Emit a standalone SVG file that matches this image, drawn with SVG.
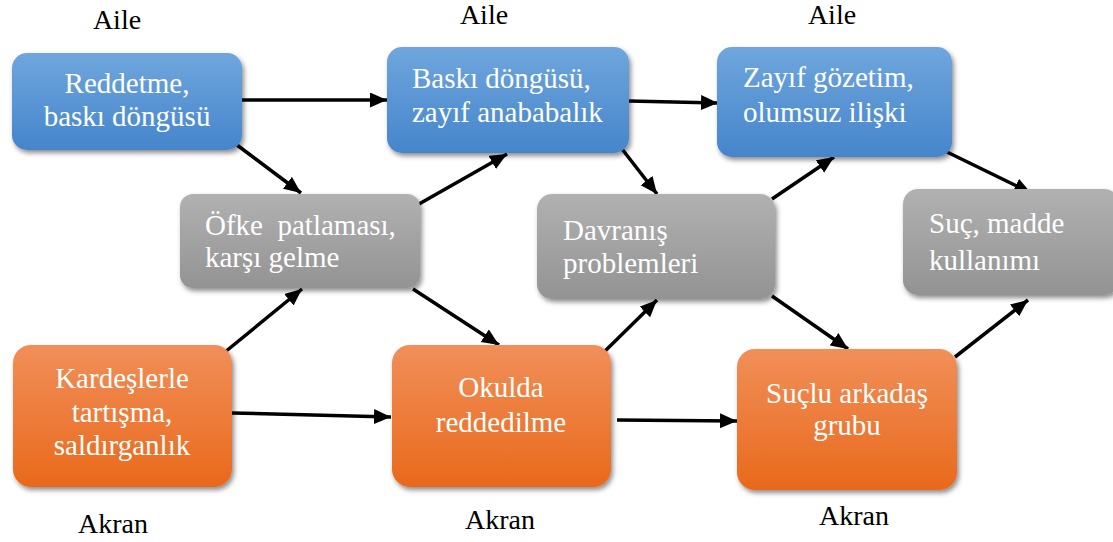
<svg xmlns="http://www.w3.org/2000/svg" width="1113" height="542" viewBox="0 0 1113 542">
  <defs>
    <linearGradient id="gBlue" x1="0" y1="0" x2="0" y2="1">
      <stop offset="0" stop-color="#6fa6dd"/>
      <stop offset="1" stop-color="#4585cb"/>
    </linearGradient>
    <linearGradient id="gGray" x1="0" y1="0" x2="0" y2="1">
      <stop offset="0" stop-color="#b1b1b1"/>
      <stop offset="1" stop-color="#939393"/>
    </linearGradient>
    <linearGradient id="gOrange" x1="0" y1="0" x2="0" y2="1">
      <stop offset="0" stop-color="#f18f59"/>
      <stop offset="1" stop-color="#e9691b"/>
    </linearGradient>
    <filter id="shadow" x="-10%" y="-10%" width="125%" height="130%">
      <feDropShadow dx="2" dy="3" stdDeviation="2.5" flood-color="#000" flood-opacity="0.45"/>
    </filter>
    <marker id="arrow" markerUnits="userSpaceOnUse" markerWidth="19" markerHeight="16" refX="17" refY="7.5" orient="auto">
      <path d="M0,0 L17,7.5 L0,15 Z" fill="#000"/>
    </marker>
  </defs>
  <style>
    .box { filter: url(#shadow); }
    .blue { fill: url(#gBlue); }
    .gray { fill: url(#gGray); }
    .orange { fill: url(#gOrange); }
    text { font-family: 'Liberation Serif', 'DejaVu Serif', serif; }
    .t { font-size: 29px; fill: #fff; }
    .c { text-anchor: middle; }
    .lbl { font-size: 28px; fill: #000; text-anchor: middle; }
    .conn line { stroke: #000; stroke-width: 3.5; marker-end: url(#arrow); }
  </style>

  <rect width="1113" height="542" fill="#fff"/>

  <!-- group labels -->
  <g id="labels">
    <text class="lbl" x="117" y="29">Aile</text>
    <text class="lbl" x="484" y="24">Aile</text>
    <text class="lbl" x="832" y="24">Aile</text>
    <text class="lbl" x="113" y="533">Akran</text>
    <text class="lbl" x="500" y="529">Akran</text>
    <text class="lbl" x="854" y="525">Akran</text>
  </g>

  <!-- connectors -->
  <g id="connectors" class="conn">
    <line x1="241" y1="100" x2="387" y2="100"/>
    <line x1="237" y1="145" x2="301" y2="193"/>
    <line x1="419" y1="204" x2="507" y2="154"/>
    <line x1="225" y1="352" x2="302" y2="289"/>
    <line x1="232" y1="413" x2="391" y2="417"/>
    <line x1="413" y1="289" x2="499" y2="345"/>
    <line x1="622" y1="149" x2="657" y2="194"/>
    <line x1="629" y1="101" x2="718" y2="103"/>
    <line x1="603" y1="353" x2="657" y2="300"/>
    <line x1="617" y1="420" x2="737" y2="421"/>
    <line x1="772" y1="199" x2="834" y2="157"/>
    <line x1="772" y1="296" x2="848" y2="349"/>
    <line x1="947" y1="152" x2="1031" y2="193"/>
    <line x1="955" y1="357" x2="1028" y2="300"/>
  </g>

  <!-- family row -->
  <g id="reddetme">
    <rect class="box blue" x="12" y="53" width="230" height="97" rx="15"/>
    <text class="t c" x="127" y="93">Reddetme,</text>
    <text class="t c" x="127" y="126">baskı döngüsü</text>
  </g>
  <g id="baski">
    <rect class="box blue" x="387" y="47" width="242" height="106" rx="15"/>
    <text class="t" x="412" y="88">Baskı döngüsü,</text>
    <text class="t" x="412" y="122">zayıf anababalık</text>
  </g>
  <g id="zayif">
    <rect class="box blue" x="717" y="47" width="235" height="110" rx="15"/>
    <text class="t" x="743" y="87">Zayıf gözetim,</text>
    <text class="t" x="743" y="122">olumsuz ilişki</text>
  </g>

  <!-- outcome row -->
  <g id="ofke">
    <rect class="box gray" x="180" y="194" width="240" height="94" rx="13"/>
    <text class="t" x="205" y="235" xml:space="preserve">Öfke  patlaması,</text>
    <text class="t" x="205" y="267">karşı gelme</text>
  </g>
  <g id="davranis">
    <rect class="box gray" x="537" y="194" width="238" height="105" rx="15"/>
    <text class="t" x="563" y="240">Davranış</text>
    <text class="t" x="563" y="273">problemleri</text>
  </g>
  <g id="suc">
    <rect class="box gray" x="903" y="189" width="216" height="106" rx="15"/>
    <text class="t" x="929" y="233">Suç, madde</text>
    <text class="t" x="929" y="270">kullanımı</text>
  </g>

  <!-- peer row -->
  <g id="kardesler">
    <rect class="box orange" x="13" y="345" width="219" height="142" rx="18"/>
    <text class="t c" x="122" y="388">Kardeşlerle</text>
    <text class="t c" x="122" y="422">tartışma,</text>
    <text class="t c" x="122" y="455">saldırganlık</text>
  </g>
  <g id="okulda">
    <rect class="box orange" x="392" y="345" width="219" height="142" rx="18"/>
    <text class="t c" x="501" y="397">Okulda</text>
    <text class="t c" x="501" y="432">reddedilme</text>
  </g>
  <g id="suclu">
    <rect class="box orange" x="737" y="349" width="220" height="141" rx="18"/>
    <text class="t c" x="847" y="403">Suçlu arkadaş</text>
    <text class="t c" x="847" y="435">grubu</text>
  </g>
</svg>
